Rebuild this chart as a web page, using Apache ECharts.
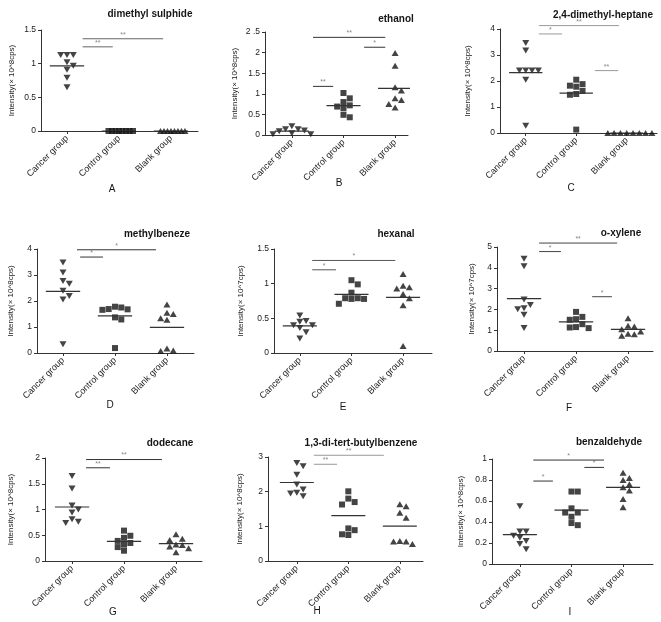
<!DOCTYPE html>
<html>
<head>
<meta charset="utf-8">
<script src="https://cdn.jsdelivr.net/npm/echarts@6/dist/echarts.min.js"></script>
<style>
  html, body { margin: 0; padding: 0; background: #fff; }
  #chart { width: 661px; height: 622px; }
</style>
</head>
<body>
<div id="chart"></div>
<script>
// groups and labels
var groups = ['Cancer group', 'Control group', 'Blank group'];
var titles = ['dimethyl sulphide', 'ethanol', '2,4-dimethyl-heptane', 'methylbeneze', 'hexanal', 'o-xylene', 'dodecane', '1,3-di-tert-butylbenzene', 'benzaldehyde'];
var letters = ['A', 'B', 'C', 'D', 'E', 'F', 'G', 'H', 'I'];
var yNames = ['Intensity(× 10^8cps)', 'Intensity(× 10^8cps)', 'Intensity(× 10^8cps)', 'Intensity(× 10^8cps)', 'Intensity(× 10^7cps)', 'Intensity(× 10^7cps)', 'Intensity(× 10^8cps)', 'Intensity(× 10^8cps)', 'Intensity(× 10^8cps)'];
var yMax = [1.5, 2.5, 4, 4, 1.5, 5, 2, 3, 1];
var yStep = [0.5, 0.5, 1, 1, 0.5, 1, 0.5, 1, 0.2];

// values per panel: cancer / control / blank
var aCancer = [1.13, 1.13, 1.13, 1.02, 0.97, 0.91, 0.79, 0.65];
var aControl = [0, 0, 0, 0, 0, 0, 0, 0];
var aBlank = [0, 0, 0, 0, 0, 0, 0, 0];
var bCancer = [0.21, 0.14, 0.14, 0.11, 0.09, 0.04, 0.02, 0.02];
var bControl = [1.02, 0.89, 0.80, 0.72, 0.69, 0.65, 0.49, 0.43];
var bBlank = [1.99, 1.68, 1.16, 1.08, 0.89, 0.85, 0.75, 0.67];
var cCancer = [3.46, 3.17, 2.40, 2.40, 2.40, 2.40, 2.05, 0.28];
var cControl = [2.05, 1.88, 1.82, 1.78, 1.62, 1.50, 1.47, 0.13];
var cBlank = [0, 0, 0, 0, 0, 0, 0, 0];
var dCancer = [3.48, 3.10, 2.77, 2.66, 2.39, 2.19, 2.06, 0.34];
var dControl = [1.78, 1.75, 1.69, 1.68, 1.66, 1.37, 1.29, 0.19];
var dBlank = [1.87, 1.55, 1.50, 1.34, 1.28, 0.17, 0.10, 0.08];
var eCancer = [0.54, 0.46, 0.45, 0.40, 0.40, 0.36, 0.30, 0.21];
var eControl = [1.05, 0.99, 0.87, 0.79, 0.79, 0.78, 0.78, 0.71];
var eBlank = [1.14, 0.97, 0.95, 0.93, 0.85, 0.79, 0.69, 0.10];
var fCancer = [4.44, 4.08, 2.48, 2.21, 2.05, 2.01, 1.74, 1.10];
var fControl = [1.88, 1.64, 1.53, 1.50, 1.29, 1.15, 1.13, 1.10];
var fBlank = [1.58, 1.21, 1.18, 1.05, 0.94, 0.83, 0.80, 0.73];
var gCancer = [1.65, 1.41, 1.08, 1.00, 0.94, 0.81, 0.76, 0.74];
var gControl = [0.59, 0.49, 0.45, 0.39, 0.35, 0.32, 0.27, 0.20];
var gBlank = [0.52, 0.43, 0.41, 0.32, 0.31, 0.28, 0.25, 0.17];
var hCancer = [2.83, 2.73, 2.49, 2.21, 2.06, 1.97, 1.95, 1.87];
var hControl = [2.01, 1.80, 1.70, 1.63, 0.94, 0.89, 0.77, 0.75];
var hBlank = [1.64, 1.58, 1.39, 1.25, 0.58, 0.56, 0.56, 0.49];
var iCancer = [0.55, 0.31, 0.31, 0.27, 0.25, 0.22, 0.19, 0.14];
var iControl = [0.69, 0.69, 0.53, 0.49, 0.49, 0.45, 0.39, 0.37];
var iBlank = [0.87, 0.82, 0.80, 0.76, 0.73, 0.70, 0.62, 0.54];

// significance bars: [from, to, level, stars]
var aSig = [[0.30, 0.88, 1.25, '**'], [0.30, 1.85, 1.37, '**']];
var bSig = [[0.41, 0.80, 1.18, '**'], [0.41, 1.81, 2.37, '**'], [1.40, 1.81, 2.13, '*']];
var cSig = [[0.26, 0.72, 3.81, '*'], [0.26, 1.85, 4.13, '**'], [1.37, 1.83, 2.40, '**']];
var dSig = [[0.33, 0.77, 3.69, '*'], [0.27, 1.79, 3.97, '*']];
var eSig = [[0.24, 0.70, 1.20, '*'], [0.24, 1.85, 1.335, '*']];
var fSig = [[0.29, 0.71, 4.78, '*'], [0.29, 1.79, 5.19, '**'], [1.31, 1.69, 2.61, '*']];
var gSig = [[0.27, 0.73, 1.81, '**'], [0.27, 1.73, 1.97, '**']];
var hSig = [[0.33, 0.78, 2.79, '**'], [0.33, 1.69, 3.05, '**']];
var iSig = [[0.26, 0.64, 0.79, '*'], [0.26, 1.63, 0.99, '*'], [1.25, 1.63, 0.92, '*']];

var panelData = [
  [aCancer, aControl, aBlank], [bCancer, bControl, bBlank], [cCancer, cControl, cBlank],
  [dCancer, dControl, dBlank], [eCancer, eControl, eBlank], [fCancer, fControl, fBlank],
  [gCancer, gControl, gBlank], [hCancer, hControl, hBlank], [iCancer, iControl, iBlank]
];
var panelSig = [aSig, bSig, cSig, dSig, eSig, fSig, gSig, hSig, iSig];

// layout of each panel (pixels); squeeze = max half width of a point column
var layout = [
  {left: 41, top: 30, width: 157, height: 101, xMin: -0.5, xMax: 2.52, gap: 25, title: [150, 14], letter: [112, 189], bar: '#666', squeeze: 14},
  {left: 265, top: 32, width: 143, height: 103, xMin: -0.52, xMax: 2.25, gap: 26, title: [396, 19], letter: [339, 183], bar: '#333', squeeze: 30},
  {left: 500, top: 29, width: 157, height: 104, xMin: -0.51, xMax: 2.6, gap: 28, title: [603, 15], letter: [571, 188], bar: '#999', squeeze: 30},
  {left: 37, top: 249, width: 157, height: 104, xMin: -0.5, xMax: 2.52, gap: 22, title: [157, 234], letter: [110, 405], bar: '#333', squeeze: 30},
  {left: 274, top: 249, width: 158, height: 104, xMin: -0.5, xMax: 2.56, gap: 29, title: [396, 234], letter: [343, 407], bar: '#555', squeeze: 30},
  {left: 497, top: 247, width: 156, height: 104, xMin: -0.52, xMax: 2.48, gap: 21, title: [621, 233], letter: [569, 408], bar: '#444', squeeze: 30},
  {left: 45, top: 458, width: 157, height: 103, xMin: -0.52, xMax: 2.5, gap: 30, title: [170, 443], letter: [113, 612], bar: '#333', squeeze: 30},
  {left: 268, top: 457, width: 155, height: 104, xMin: -0.56, xMax: 2.45, gap: 24, title: [361, 443], letter: [317, 611], bar: '#999', squeeze: 30},
  {left: 492, top: 459, width: 161, height: 105, xMin: -0.54, xMax: 2.58, gap: 27, title: [609, 442], letter: [570, 612], bar: '#333', squeeze: 30}
];

var font = '"Liberation Sans", Arial, sans-serif';
var ink = '#151515';
var symbols = [
  {symbol: 'triangle', size: [7, 6], rotate: 180},
  {symbol: 'rect', size: [6, 6], rotate: 0},
  {symbol: 'triangle', size: [7, 6], rotate: 0}
];

// column scatter: spread points with close values sideways
function spread(values, center, pxPerUnitY, pxPerUnitX, squeeze) {
  var order = values.map(function (v, i) { return i; })
    .sort(function (a, b) { return values[b] - values[a]; });
  var placed = [];
  order.forEach(function (i) {
    var y = values[i] * pxPerUnitY;
    for (var k = 0; k < 40; k++) {
      var off = k === 0 ? 0 : (k % 2 ? Math.ceil(k / 2) : -k / 2);
      var hit = placed.some(function (p) { return p.o === off && Math.abs(p.y - y) < 6; });
      if (!hit) {
        placed.push({o: off, y: y, v: values[i]});
        break;
      }
    }
  });
  var widest = Math.max.apply(null, placed.map(function (p) { return Math.abs(p.o); }));
  var stepPx = 6.3;
  if (widest * stepPx > squeeze) stepPx = squeeze / widest;
  return placed.map(function (p) { return [center + p.o * stepPx / pxPerUnitX, p.v]; });
}

function mean(arr) {
  return arr.reduce(function (s, v) { return s + v; }, 0) / arr.length;
}

var grid = [], xAxis = [], yAxis = [], series = [], graphic = [];

layout.forEach(function (L, p) {
  grid.push({left: L.left, top: L.top, width: L.width, height: L.height});
  xAxis.push({
    type: 'value', gridIndex: p, min: L.xMin, max: L.xMax,
    splitLine: {show: false},
    axisLine: {onZero: false, lineStyle: {color: '#333', width: 1}},
    axisTick: {show: true, length: 3, customValues: [0, 1, 2], lineStyle: {color: '#333'}},
    axisLabel: {
      customValues: [0, 1, 2], rotate: 45, margin: 6,
      fontSize: 9, fontFamily: font, color: '#222',
      formatter: function (v) { return groups[Math.round(v)]; }
    }
  });
  yAxis.push({
    type: 'value', gridIndex: p, min: 0, max: yMax[p], interval: yStep[p],
    name: yNames[p], nameLocation: 'middle', nameGap: L.gap,
    nameTextStyle: {fontSize: 8, fontFamily: font, color: '#222'},
    splitLine: {show: false},
    axisLine: {show: true, onZero: false, lineStyle: {color: '#333', width: 1}},
    axisTick: {show: true, length: 3, lineStyle: {color: '#333'}},
    axisLabel: {
      fontSize: 8.5, fontFamily: font, color: '#222', margin: 5,
      formatter: function (v) { return (p === 1 && v === 2.5) ? '2 .5' : String(v); }
    }
  });

  var pxX = L.width / (L.xMax - L.xMin);
  var pxY = L.height / yMax[p];
  panelData[p].forEach(function (vals, g) {
    var s = symbols[g];
    series.push({
      type: 'scatter', xAxisIndex: p, yAxisIndex: p, silent: true,
      symbol: s.symbol, symbolSize: s.size, symbolRotate: s.rotate,
      itemStyle: {color: ink},
      data: spread(vals, g, pxY, pxX, L.squeeze)
    });
    var m = mean(vals);
    series.push({
      type: 'line', xAxisIndex: p, yAxisIndex: p, silent: true, symbol: 'none',
      lineStyle: {color: '#333', width: 1.2},
      data: [[g - 0.33, m], [g + 0.33, m]]
    });
  });

  panelSig[p].forEach(function (b) {
    series.push({
      type: 'line', xAxisIndex: p, yAxisIndex: p, silent: true, symbol: 'none', clip: false,
      lineStyle: {color: L.bar, width: 1},
      data: [[b[0], b[2]], [b[1], b[2]]]
    });
    series.push({
      type: 'scatter', xAxisIndex: p, yAxisIndex: p, silent: true, clip: false,
      symbolSize: 1, itemStyle: {color: 'rgba(0,0,0,0)'},
      label: {
        show: true, position: 'top', distance: 0,
        formatter: b[3], fontSize: 7, fontFamily: font, color: '#666'
      },
      data: [[(b[0] + b[1]) / 2, b[2]]]
    });
  });

  graphic.push({
    type: 'text', x: L.title[0], y: L.title[1], silent: true,
    style: {text: titles[p], font: 'bold 10px ' + font, fill: ink, align: 'center', verticalAlign: 'middle'}
  });
  graphic.push({
    type: 'text', x: L.letter[0], y: L.letter[1], silent: true,
    style: {text: letters[p], font: '10px ' + font, fill: ink, align: 'center', verticalAlign: 'middle'}
  });
});

var chart = echarts.init(document.getElementById('chart'));
chart.setOption({
  animation: false,
  backgroundColor: '#fff',
  grid: grid,
  xAxis: xAxis,
  yAxis: yAxis,
  series: series,
  graphic: graphic
});
</script>
</body>
</html>
